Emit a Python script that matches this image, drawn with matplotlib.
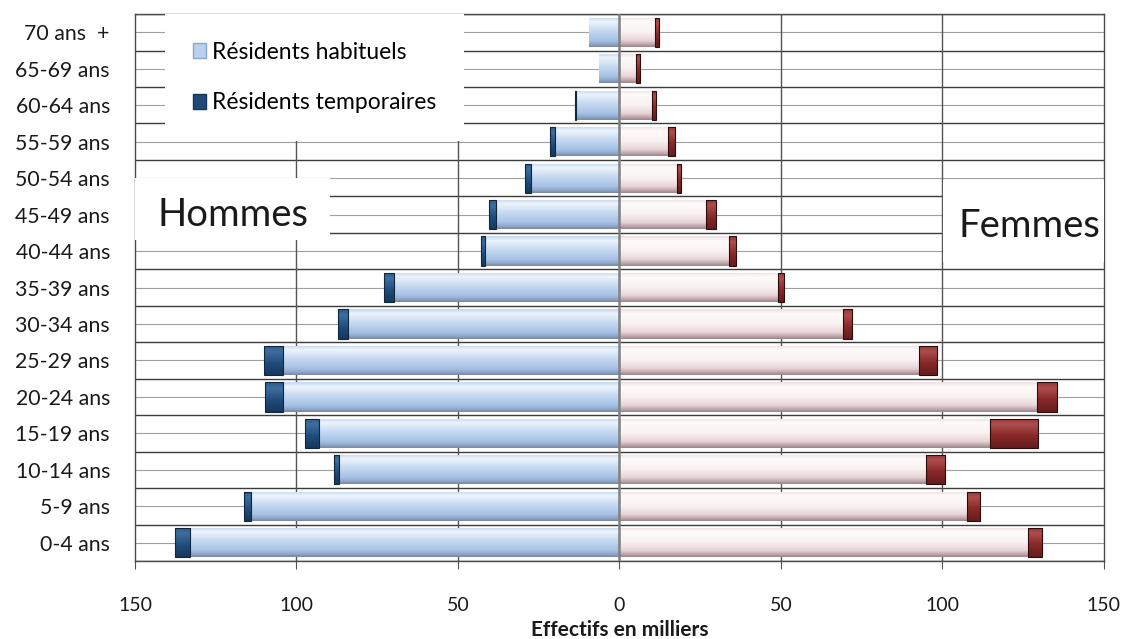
import numpy as np
import matplotlib.pyplot as plt
from matplotlib.colors import LinearSegmentedColormap
from matplotlib.patches import Patch, Rectangle

plt.rcParams['font.family'] = ['Lato', 'DejaVu Sans']

# age groups from bottom to top, values in thousands
ages = ["0-4 ans", "5-9 ans", "10-14 ans", "15-19 ans", "20-24 ans", "25-29 ans",
        "30-34 ans", "35-39 ans", "40-44 ans", "45-49 ans", "50-54 ans",
        "55-59 ans", "60-64 ans", "65-69 ans", "70 ans  +"]
hommes_hab = [133.0, 114.1, 86.8, 93.0, 104.1, 104.1, 84.0, 69.8, 41.6, 38.3,
              27.4, 20.0, 13.3, 6.2, 9.3]
hommes_tmp = [4.7, 2.0, 1.6, 4.3, 5.6, 5.9, 3.1, 3.1, 1.3, 2.2,
              1.8, 1.5, 0.5, 0.0, 0.0]
femmes_hab = [126.4, 107.6, 94.8, 114.6, 129.2, 92.7, 69.3, 49.0, 34.0, 26.9,
              17.9, 15.0, 10.2, 5.0, 10.9]
femmes_tmp = [4.4, 4.1, 5.9, 15.1, 6.2, 5.7, 2.8, 1.8, 2.1, 3.0,
              1.2, 2.3, 1.2, 1.3, 1.2]
xticks = [-150, -100, -50, 0, 50, 100, 150]

# vertical shading, top -> bottom
cm_h_hab = LinearSegmentedColormap.from_list("hh", [
    (0.0, "#c2d7f0"), (0.15, "#edf4fc"), (0.45, "#c6daf1"),
    (0.78, "#a6c1e4"), (0.9, "#8ea9cd"), (1.0, "#7d86a2")])
cm_f_hab = LinearSegmentedColormap.from_list("fh", [
    (0.0, "#eedfe1"), (0.15, "#fefbfb"), (0.5, "#f9f1f1"),
    (0.78, "#e8d5d8"), (0.9, "#c2a9ad"), (1.0, "#9c868c")])
cm_h_tmp = LinearSegmentedColormap.from_list("ht", [
    (0.0, "#2a5a8a"), (0.2, "#3f6f9f"), (0.6, "#1f4c7b"), (1.0, "#16385b")])
cm_f_tmp = LinearSegmentedColormap.from_list("ft", [
    (0.0, "#973636"), (0.2, "#ad4d4d"), (0.6, "#872828"), (1.0, "#651c1c")])


def fill_gradient(ax, bars, cmap):
    grad = np.linspace(0, 1, 100).reshape(-1, 1)
    for bar in bars:
        x, y = bar.get_xy()
        w, h = bar.get_width(), bar.get_height()
        if w == 0:
            continue
        im = ax.imshow(grad, cmap=cmap, aspect="auto", origin="upper",
                       interpolation="bilinear",
                       extent=(min(x, x + w), max(x, x + w), y, y + h),
                       zorder=bar.get_zorder() - 0.01)
        im.set_clip_path(bar)
        bar.set_facecolor("none")


fig, ax = plt.subplots(figsize=(11.23, 6.39), dpi=100)
fig.subplots_adjust(left=0.1202, right=0.983, top=0.978, bottom=0.122)

y = np.arange(len(ages))
h_hab = np.array(hommes_hab)
h_tmp = np.array(hommes_tmp)
f_hab = np.array(femmes_hab)
f_tmp = np.array(femmes_tmp)

bh = ax.barh(y, -h_hab, height=0.8, lw=0, zorder=3)
bt = ax.barh(y, -h_tmp, left=-h_hab, height=0.8, edgecolor="#10263f",
             lw=np.where(h_tmp > 0, 0.8, 0), zorder=3)
fh = ax.barh(y, f_hab, height=0.8, lw=0, zorder=3)
ft = ax.barh(y, f_tmp, left=f_hab, height=0.8, edgecolor="#2a0c0c",
             lw=np.where(f_tmp > 0, 0.8, 0), zorder=3)
fill_gradient(ax, bh, cm_h_hab)
fill_gradient(ax, bt, cm_h_tmp)
fill_gradient(ax, fh, cm_f_hab)
fill_gradient(ax, ft, cm_f_tmp)

# grid: row boundaries, row centres, value lines
for k in range(len(ages) + 1):
    ax.axhline(k - 0.5, color="#3c3c3c", lw=1.0, zorder=0.5)
for k in range(len(ages)):
    ax.axhline(k, color="#a0a0a0", lw=0.8, zorder=0.5)
for v in [-100, -50, 50, 100]:
    ax.axvline(v, color="#555555", lw=1.0, zorder=0.6)
ax.axvline(0, color="#808080", lw=1.8, zorder=5)

ax.set_xlim(-150, 150)
ax.set_ylim(-0.5, len(ages) - 0.5)
ax.set_xticks(xticks)
ax.set_xticklabels([str(abs(t)) for t in xticks])
ax.set_yticks(y)
ax.set_yticklabels(ages)
ax.tick_params(axis="x", direction="out", length=6, color="#555555",
               pad=20, labelsize=14, labelcolor="#1a1a1a")
ax.tick_params(axis="y", length=0, pad=18, labelsize=15.3, labelcolor="#1a1a1a")
for s in ax.spines.values():
    s.set_color("#4a4a4a")
    s.set_linewidth(1.0)
fig.text(0.552, 0.004, "Effectifs en milliers", fontsize=15, fontweight="bold",
         ha="center", va="baseline", color="#1a1a1a")

# white boxes behind the sex labels
ax.add_patch(Rectangle((-150, 8.3), 60.5, 1.7, fc="white", ec="none", zorder=4))
ax.add_patch(Rectangle((100.3, 7.7), 49.7, 2.25, fc="white", ec="none", zorder=4))
ax.text(-143, 9.0, "Hommes", fontsize=27.5, va="center", ha="left",
        color="#1a1a1a", zorder=6)
ax.text(148.8, 8.7, "Femmes", fontsize=27.5, va="center", ha="right",
        color="#1a1a1a", zorder=6)

handles = [Patch(fc="#b9d1ee", ec="#8aa6c8"), Patch(fc="#1f4a78", ec="#15365a")]
leg = ax.legend(handles, ["Résidents habituels", "Résidents temporaires"],
                loc="upper left", bbox_to_anchor=(0.031, 1.0), frameon=True,
                facecolor="white", edgecolor="none", framealpha=1, fancybox=False,
                fontsize=16.5, labelspacing=1.3, handlelength=0.6,
                handleheight=0.6, handletextpad=0.25, borderpad=1.2,
                borderaxespad=0)
leg.set_zorder(6)

fig.savefig("out.png", dpi=100)
